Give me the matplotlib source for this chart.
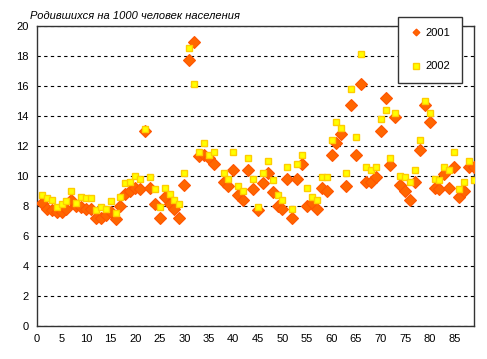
import numpy as np
import matplotlib

matplotlib.use('Agg')

import matplotlib.pyplot as plt

plt.rcParams['font.family'] = ['Liberation Sans', 'DejaVu Sans']

# номер региона
regions = np.arange(1, 90)

# рождаемость, 2001 (ромбы); 37-й регион без данных
births_2001 = [8.2, 7.8, 7.7, 7.6, 7.6, 7.8, 8.4, 8.0, 7.9, 7.8,
               7.8, 7.2, 7.2, 7.4, 7.6, 7.1, 8.0, 8.8, 9.0, 9.2,
               9.1, 13.0, 9.2, 8.1, 7.2, 8.6, 8.1, 7.8, 7.2, 9.4,
               17.7, 18.9, 11.3, 11.4, 11.2, 10.8, np.nan, 9.6, 9.3, 10.4,
               8.7, 8.4, 10.4, 9.1, 7.7, 9.5, 10.2, 8.9, 8.0, 7.8,
               9.8, 7.2, 9.8, 10.8, 8.0, 8.2, 7.8, 9.2, 9.0, 11.4,
               12.2, 12.8, 9.3, 14.7, 11.4, 16.1, 9.6, 9.6, 9.9, 13.0,
               15.2, 10.7, 13.9, 9.4, 9.0, 8.4, 9.6, 11.7, 14.7, 13.6,
               9.2, 9.1, 10.1, 9.2, 10.6, 8.6, 9.0, 10.6, 10.6]

# рождаемость, 2002 (квадраты)
births_2002 = [8.7, 8.5, 8.4, 7.9, 8.1, 8.3, 9.0, 8.2, 8.6, 8.5,
               8.5, 7.7, 7.9, 7.8, 8.3, 7.5, 8.6, 9.5, 9.6, 10.0,
               9.8, 13.1, 9.9, 9.1, 7.9, 9.2, 8.8, 8.4, 8.1, 10.2,
               18.5, 16.1, 11.6, 12.2, 11.4, 11.6, np.nan, 10.2, 9.8, 11.6,
               9.3, 9.0, 11.2, 9.8, 7.9, 10.2, 11.0, 9.7, 8.7, 8.4,
               10.6, 7.8, 10.8, 11.4, 9.2, 8.6, 8.4, 9.9, 9.9, 12.4,
               13.6, 13.2, 10.2, 15.8, 12.6, 18.1, 10.6, 10.4, 10.6, 13.8,
               14.4, 11.2, 14.2, 10.0, 9.9, 9.6, 10.4, 12.4, 15.0, 14.2,
               9.8, 9.7, 10.6, 10.4, 11.6, 9.1, 9.6, 11.0, 9.7]

x_ticks = list(range(0, 90, 5))
y_ticks = list(range(0, 21, 2))

fig = plt.figure(figsize=(4.87, 3.59), dpi=100)
ax = fig.add_axes([0.076, 0.092, 0.897, 0.836])

ax.plot(regions, births_2001, linestyle='none', marker='D', markersize=5.8,
        markerfacecolor='#FF6600', markeredgecolor='#FF5500',
        markeredgewidth=0.8, label='2001', zorder=3)
ax.plot(regions, births_2002, linestyle='none', marker='s', markersize=4.6,
        markerfacecolor='#FFFF00', markeredgecolor='#FFCC00',
        markeredgewidth=1.0, label='2002', zorder=4)

ax.set_xlim(0, 89)
ax.set_ylim(0, 20)
ax.set_xticks(x_ticks)
ax.set_yticks(y_ticks)
ax.tick_params(length=0, labelsize=8, pad=6)
ax.yaxis.grid(True, color='black', linestyle=(0, (3, 3)), linewidth=0.8)
ax.set_axisbelow(True)
for s in ax.spines.values():
    s.set_color('#333333')
    s.set_linewidth(1.0)

fig.text(0.062, 0.947, 'Родившихся на 1000 человек населения',
         fontsize=8, style='italic')

leg = fig.legend(loc='upper left', bbox_to_anchor=(0.806, 0.968),
                 fontsize=8, frameon=True, fancybox=False, framealpha=1,
                 edgecolor='#333333', handlelength=1.2, handletextpad=0.3,
                 labelspacing=2.1, borderpad=1.0)
leg.get_frame().set_linewidth(1.0)
# в легенде маркеры мельче, чем на графике
leg.legend_handles[0].set_markersize(3.5)
leg.legend_handles[1].set_markersize(4.0)

plt.savefig('out.png', format='png')
plt.close()
